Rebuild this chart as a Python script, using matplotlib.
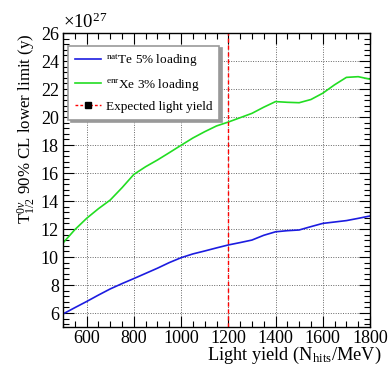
import matplotlib
matplotlib.use("Agg")
import matplotlib.pyplot as plt
from matplotlib.lines import Line2D
from matplotlib.ticker import MultipleLocator

plt.rcParams['font.family'] = ['Liberation Serif', 'DejaVu Serif']
plt.rcParams['mathtext.fontset'] = 'custom'
plt.rcParams['mathtext.rm'] = 'Liberation Serif'
plt.rcParams['mathtext.it'] = 'Liberation Serif:italic'

light_yield = [500, 550, 600, 650, 700, 750, 800, 850, 900, 950, 1000, 1050, 1100,
               1150, 1200, 1250, 1300, 1350, 1400, 1450, 1500, 1550, 1600, 1650,
               1700, 1750, 1800]
te_limit = [5.93, 6.38, 6.82, 7.28, 7.72, 8.10, 8.46, 8.83, 9.20, 9.60, 9.95, 10.22,
            10.43, 10.65, 10.86, 11.03, 11.21, 11.55, 11.80, 11.88, 11.93, 12.17,
            12.40, 12.50, 12.60, 12.76, 12.93]
xe_limit = [11.0, 11.95, 12.76, 13.45, 14.07, 14.95, 15.9, 16.45, 16.93, 17.45,
            17.98, 18.5, 18.95, 19.36, 19.64, 19.95, 20.26, 20.7, 21.1, 21.05, 21.02,
            21.25, 21.7, 22.3, 22.83, 22.88, 22.7]
expected_ly = 1200
labels = [r"$^{\rm nat}$Te 5% loading", r"$^{\rm enr}$Xe 3% loading", "Expected light yield"]

fig = plt.figure(figsize=(3.9, 3.72), dpi=100)
ax = fig.add_axes([63/390, 1-327/372, 307/390, 294/372])

ax.plot(light_yield, te_limit, color='#1c1ce0', lw=1.2)
ax.plot(light_yield, xe_limit, color='#22dd22', lw=1.2)
ax.axvline(expected_ly, color='#ff0000', ls=(0, (3, 2)), lw=1.0)

ax.set_xlim(500, 1800)
ax.set_ylim(5, 26)
ax.xaxis.set_major_locator(MultipleLocator(200))
ax.xaxis.set_minor_locator(MultipleLocator(50))
ax.yaxis.set_major_locator(MultipleLocator(2))
ax.yaxis.set_minor_locator(MultipleLocator(0.4))
ax.tick_params(which='both', direction='in', top=True, right=True, labelsize=13, color='black')
ax.tick_params(which='major', length=8, width=0.8, pad=3)
ax.tick_params(axis='x', which='major', pad=2)
ax.tick_params(which='minor', length=4, width=0.8)
ax.grid(True, which='major', color='#666666', ls=(0, (1, 1.5)), lw=0.7)
for s in ax.spines.values():
    s.set_linewidth(1.0)

ax.set_xlabel(r"Light yield (N$_{\rm hits}$/MeV)", fontsize=13.2, loc='right')
ax.xaxis.set_label_coords(1.039, -0.062)
ax.set_ylabel(r"T$^{0\nu}_{1/2}$ 90% CL lower limit (y)", fontsize=12.2, loc='top')
ax.yaxis.set_label_coords(-0.082, 1.0)
ax.text(0.0, 1.003, r"$\times$10$^{27}$", transform=ax.transAxes, fontsize=13.5,
        ha='left', va='bottom')

handles = [Line2D([], [], color='#1c1ce0', lw=1.2),
           Line2D([], [], color='#22dd22', lw=1.2),
           Line2D([], [], color='#ff0000', ls=(0, (2, 1.5)), lw=1.0, marker='s',
                  markersize=5, markerfacecolor='black', markeredgecolor='black')]
leg = ax.legend(handles, labels, loc='upper left', bbox_to_anchor=(0.016, 0.957),
                borderaxespad=0, fontsize=9.5, frameon=True, fancybox=False,
                edgecolor='#999999', framealpha=1, handlelength=2.0, handletextpad=0.4,
                labelspacing=0.6, borderpad=0.5,
                shadow={'color': '#999999', 'alpha': 1})
leg.get_frame().set_linewidth(1.2)

fig.savefig("out.png", dpi=100)
